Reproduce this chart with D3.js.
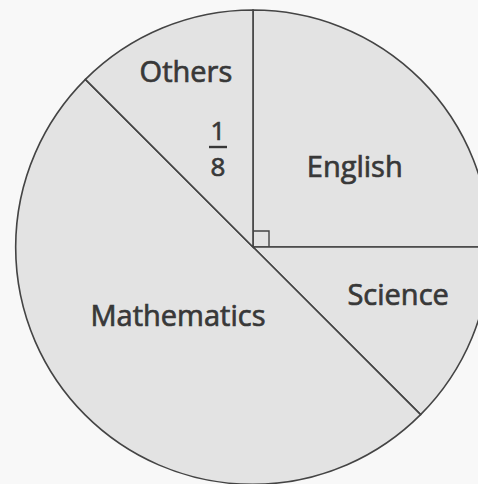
<!DOCTYPE html>
<html>
<head>
<meta charset="utf-8">
<script src="https://cdn.jsdelivr.net/npm/d3@7"></script>
<style>
  html, body { margin: 0; padding: 0; background: #f8f8f8; }
  svg { display: block; }
  text { font-family: "Open Sans", Lato, sans-serif; fill: #383838; stroke: #383838; stroke-width: 0.7px; }
</style>
</head>
<body>
<svg id="chart" width="478" height="484"></svg>
<script>
// Subjects, clockwise from 12 o'clock, and their share of the whole
const subjects = ["English", "Science", "Mathematics", "Others"];
const shares = [1 / 4, 1 / 8, 1 / 2, 1 / 8];
// Only the "Others" slice carries its fraction as a label
const fractionNumerator = "1";
const fractionDenominator = "8";

const width = 478, height = 484;
const cx = 253, cy = 247, radius = 237;

const svg = d3.select("#chart");
const g = svg.append("g").attr("transform", `translate(${cx},${cy})`);

const pie = d3.pie().sort(null).value(d => d.share);
const arcs = pie(subjects.map((s, i) => ({ subject: s, share: shares[i] })));
const arc = d3.arc().innerRadius(0).outerRadius(radius);

g.selectAll("path.slice")
  .data(arcs)
  .join("path")
  .attr("class", "slice")
  .attr("d", arc)
  .attr("fill", "#e3e3e3")
  .attr("stroke", "#444")
  .attr("stroke-width", 1.6)
  .attr("stroke-linejoin", "miter");

// Right-angle marker in the English quarter
const box = 16;
g.append("path")
  .attr("d", `M0,${-box}H${box}V0`)
  .attr("fill", "none")
  .attr("stroke", "#444")
  .attr("stroke-width", 1.4);

// Label placement in polar terms: angle (degrees, clockwise from 12 o'clock) and radius fraction
const labelPlacement = {
  "English": { angle: 52, r: 0.545 },
  "Science": { angle: 108.3, r: 0.645 },
  "Mathematics": { angle: 227.4, r: 0.43 },
  "Others": { angle: 339, r: 0.79 }
};

function polar(angleDeg, rFrac) {
  const a = angleDeg * Math.PI / 180;
  return [Math.sin(a) * radius * rFrac, -Math.cos(a) * radius * rFrac];
}

g.selectAll("text.label")
  .data(arcs)
  .join("text")
  .attr("class", "label")
  .attr("text-anchor", "middle")
  .attr("font-size", 29)
  .attr("transform", d => {
    const p = labelPlacement[d.data.subject];
    const [x, y] = polar(p.angle, p.r);
    return `translate(${x},${y + 10})`;
  })
  .text(d => d.data.subject);

// Fraction "1/8" inside the Others slice: numerator, bar, denominator
const fr = g.append("g").attr("transform", `translate(${polar(340.7, 0.447).join(",")})`);
fr.append("text")
  .attr("text-anchor", "middle")
  .attr("font-size", 26)
  .attr("y", -7)
  .text(fractionNumerator);
fr.append("line")
  .attr("x1", -9).attr("x2", 9)
  .attr("stroke", "#383838").attr("stroke-width", 2.4);
fr.append("text")
  .attr("text-anchor", "middle")
  .attr("font-size", 26)
  .attr("y", 28.5)
  .text(fractionDenominator);
</script>
</body>
</html>
